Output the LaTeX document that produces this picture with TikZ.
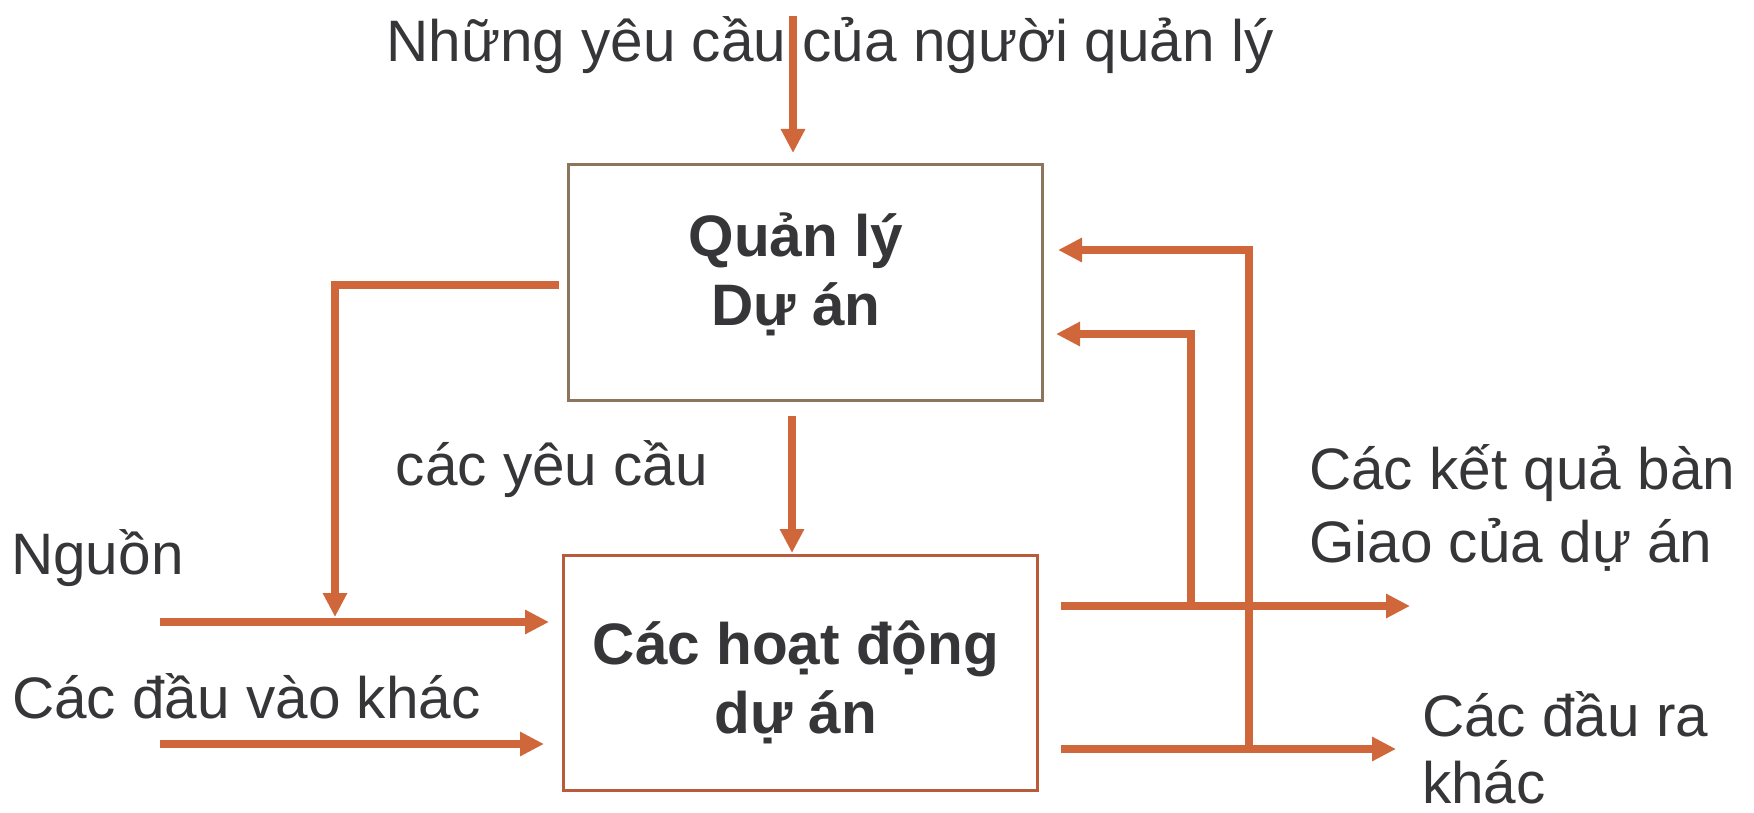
\documentclass[tikz,border=0pt]{standalone}
\usepackage{fontspec}
\setmainfont{Liberation Sans}
\usetikzlibrary{arrows.meta,calc}
\definecolor{flow}{HTML}{D0673A}
\definecolor{ink}{HTML}{363639}
\definecolor{mgmtedge}{HTML}{8C755C}
\definecolor{workedge}{HTML}{B95B3B}
\begin{document}
\begin{tikzpicture}[x=1pt,y=-1pt,
  flowline/.style={draw=flow,line width=7.5pt,-{Triangle[length=24pt,width=23pt]}},
  lbl/.style={text=ink,font=\fontsize{58.5}{70}\selectfont,inner sep=0pt},
  boxlbl/.style={lbl,font=\fontsize{58.5}{69}\selectfont\bfseries,align=center},
  panel/.style={rectangle,minimum width=474pt,minimum height=235pt,inner sep=0pt,outer sep=0pt,line width=3pt,fill=white},
]
\useasboundingbox (0,0) rectangle (1754,813);

% the two process boxes
\node[panel,draw=mgmtedge] (mgmt) at (805,282.5) {};
\node[panel,draw=workedge] (work) at (800,672.5) {};
% (base of a two-line label is the baseline of its last line)
\node[boxlbl,anchor=base] (mgmtlbl) at (796,325) {Quản lý\\Dự án};
\node[boxlbl,anchor=base] (worklbl) at (796,733) {Các hoạt động\\dự án};

% labels
\node[lbl,anchor=base] (req) at (830,62) {Những yêu cầu của người quản lý};
\node[lbl,anchor=base] (reqs) at (552,485) {các yêu cầu};
\node[lbl,anchor=base west] (res) at (11,574) {Nguồn};
\node[lbl,anchor=base west] (oin) at (12,718) {Các đầu vào khác};
\node[lbl,anchor=base west,align=left,font=\fontsize{58.5}{73}\selectfont] (deliv) at (1309,562) {Các kết quả bàn\\Giao của dự án};
\node[lbl,anchor=base west,align=left,font=\fontsize{58.5}{67}\selectfont] (oout) at (1422,803) {Các đầu ra\\khác};

% connector end points
\coordinate (reqtop) at (793,16);
\coordinate (midx) at (792,0);
\coordinate (fbstart) at (559,285);
\coordinate (fbdrop) at (335,617);
\coordinate (resin) at (160,622);
\coordinate (oinin) at (160,744);
\coordinate (delivend) at (1410,606);
\coordinate (ooutend) at (1396,749);
\coordinate (fb1) at (1249,749);
\coordinate (fb1y) at (0,250);
\coordinate (fb2) at (1191,606);
\coordinate (fb2y) at (0,334);

% management requirements in
\draw[flowline] (reqtop) -- ($(mgmt.north -| reqtop)+(0,-12)$);
% requirements from management to activities
\draw[flowline] ($(mgmt.south -| midx)+(0,16)$) -- ($(work.north -| midx)+(0,-2)$);
% management control down to the resource line
\draw[flowline] (fbstart) -| (fbdrop);
% inputs
\draw[flowline] (resin) -- ($(work.west |- resin)+(-14,0)$);
\draw[flowline] (oinin) -- ($(work.west |- oinin)+(-19,0)$);
% outputs
\draw[flowline] ($(work.east |- delivend)+(24,0)$) -- (delivend);
\draw[flowline] ($(work.east |- ooutend)+(24,0)$) -- (ooutend);
% feedback to management
\draw[flowline] (fb1) |- ($(mgmt.east |- fb1y)+(16,0)$);
\draw[flowline] (fb2) |- ($(mgmt.east |- fb2y)+(14,0)$);
\end{tikzpicture}
\end{document}
